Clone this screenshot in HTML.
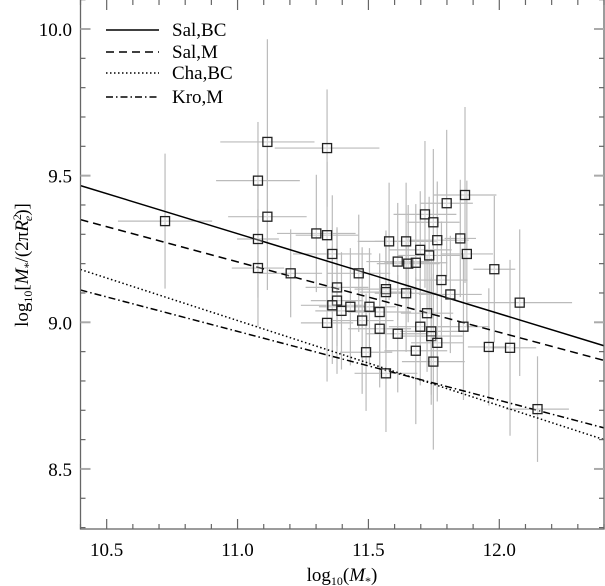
<!DOCTYPE html>
<html><head><meta charset="utf-8"><style>
html,body{margin:0;padding:0;background:#fff;}
svg{display:block;font-family:"Liberation Serif",serif;}
</style></head><body>
<svg id="chart" width="605" height="586" viewBox="0 0 605 586">
<g id="errs"></g>
<g id="lines"></g>
<g id="pts"></g>
<g id="axes"></g>
<g id="legend"></g>
<text x="342" y="581" font-size="19" text-anchor="middle">log<tspan font-size="12" dy="4">10</tspan><tspan dy="-4">(</tspan><tspan font-style="italic">M</tspan><tspan font-size="12" dy="4">*</tspan><tspan dy="-4">)</tspan></text>
<text transform="translate(28,265) rotate(-90)" font-size="19" text-anchor="middle">log<tspan font-size="12" dy="4">10</tspan><tspan dy="-4">[</tspan><tspan font-style="italic">M</tspan><tspan font-size="12" dy="4">*</tspan><tspan dy="-4">/(2π</tspan><tspan font-style="italic">R</tspan><tspan font-size="12" dy="-7">2</tspan><tspan font-size="12" dx="-7" dy="11" font-style="italic">e</tspan><tspan dy="-4">)]</tspan></text>
</svg>
<script>
const xs=[10.723,11.114,11.078,11.114,11.078,11.078,11.203,11.342,11.301,11.342,11.362,11.463,11.38,11.38,11.362,11.397,11.431,11.342,11.504,11.543,11.476,11.543,11.612,11.491,11.567,11.567,11.567,11.644,11.579,11.644,11.612,11.652,11.681,11.698,11.698,11.681,11.869,11.799,11.716,11.748,11.763,11.851,11.732,11.876,11.981,11.779,11.813,12.078,11.724,11.863,11.74,11.74,11.763,11.96,12.041,11.748,12.146];
const ys=[9.345,9.615,9.483,9.36,9.284,9.185,9.167,9.594,9.303,9.297,9.233,9.167,9.119,9.074,9.058,9.039,9.053,8.998,9.053,9.035,9.006,8.978,8.961,8.898,8.826,9.113,9.103,9.099,9.276,9.276,9.207,9.2,9.203,9.247,8.985,8.903,9.434,9.406,9.368,9.341,9.28,9.286,9.228,9.233,9.181,9.144,9.095,9.067,9.031,8.985,8.969,8.953,8.93,8.916,8.913,8.866,8.704];
const xErr=[0.18,0.18,0.16,0.15,0.08,0.1,0.12,0.2,0.15,0.12,0.15,0.12,0.12,0.1,0.12,0.1,0.12,0.1,0.1,0.12,0.12,0.12,0.12,0.1,0.12,0.12,0.1,0.12,0.12,0.12,0.12,0.12,0.12,0.12,0.12,0.12,0.12,0.1,0.12,0.1,0.12,0.06,0.12,0.1,0.08,0.1,0.12,0.2,0.1,0.1,0.12,0.12,0.1,0.08,0.1,0.12,0.12];
const yErr=[0.23,0.35,0.2,0.25,0.2,0.2,0.15,0.2,0.2,0.25,0.2,0.2,0.2,0.25,0.2,0.2,0.2,0.2,0.2,0.2,0.25,0.2,0.2,0.2,0.2,0.2,0.2,0.2,0.2,0.2,0.2,0.2,0.2,0.2,0.2,0.25,0.3,0.25,0.25,0.25,0.2,0.2,0.2,0.25,0.25,0.2,0.2,0.25,0.2,0.25,0.25,0.2,0.2,0.2,0.3,0.3,0.18];
const lineNames=["Sal,BC","Sal,M","Cha,BC","Kro,M"];
const lineStart=[9.466,9.35,9.18,9.11];
const lineEnd=[8.92,8.87,8.60,8.64];
const lineDash=["","8,5","1.5,2.5","7,3,1.5,3"];
const xTicks=[10.5,11.0,11.5,12.0];
const yTicks=[8.5,9.0,9.5,10.0];
const X0=10.4,X1=12.4,Y0=8.3,Y1=10.1;
const L=80.5,R=604,T=0,B=529;
const sx=v=>L+(v-X0)/(X1-X0)*(R-L);
const sy=v=>29+(10.0-v)*293.3;
const NS="http://www.w3.org/2000/svg";
function mk(tag,attrs,parent){const e=document.createElementNS(NS,tag);for(const k in attrs)e.setAttribute(k,attrs[k]);parent.appendChild(e);return e;}
const errs=document.getElementById('errs'),pts=document.getElementById('pts'),lines=document.getElementById('lines'),axes=document.getElementById('axes'),leg=document.getElementById('legend');
for(let i=0;i<xs.length;i++){
  const cx=sx(xs[i]),cy=sy(ys[i]);
  const h=mk('line',{x1:sx(xs[i]-xErr[i]),x2:sx(xs[i]+xErr[i]),y1:cy,y2:cy,stroke:'#bbb','stroke-width':1.2},errs);
  
  
  const v=mk('line',{x1:cx,x2:cx,y1:sy(ys[i]-yErr[i]),y2:sy(ys[i]+yErr[i]),stroke:'#bbb','stroke-width':1.2},errs);
  
  
  const r=mk('rect',{x:cx-4.5,y:cy-4.5,width:9,height:9,fill:'rgba(255,255,255,0.3)',stroke:'#222','stroke-width':1.3},pts);
  
  
}
for(let i=0;i<lineNames.length;i++){
  const l=mk('line',{x1:sx(X0),y1:sy(lineStart[i]),x2:sx(X1),y2:sy(lineEnd[i]),stroke:'#000','stroke-width':1.5,'stroke-dasharray':lineDash[i]},lines);
  
  
  const ly=[30,52,73,97][i];
  const ll=mk('line',{x1:106,x2:159,y1:ly,y2:ly,stroke:'#000','stroke-width':1.5,'stroke-dasharray':lineDash[i]},leg);
  
  
  const t=mk('text',{x:172,y:ly+6,'font-size':19},leg);
  t.textContent=lineNames[i];
  
  
}
const frame=mk('rect',{x:L,y:T-1,width:R-L,height:B-T+1,fill:'none',stroke:'#666','stroke-width':1.3},axes);


for(let k=0;k<=20;k++){
  const v=X0+k*0.1,x=sx(v),maj=Math.abs((v*2)-Math.round(v*2))<1e-6;const len=maj?10:5;
  mk('line',{x1:x,x2:x,y1:B,y2:B-len,stroke:'#666','stroke-width':1.2},axes);
  mk('line',{x1:x,x2:x,y1:T,y2:T+len,stroke:'#666','stroke-width':1.2},axes);
}
for(let k=0;k<=18;k++){
  const v=Y0+k*0.1,y=sy(v),maj=Math.abs((v*2)-Math.round(v*2))<1e-6;const len=maj?10:5;
  mk('line',{x1:L,x2:L+len,y1:y,y2:y,stroke:maj?'#aaa':'#666','stroke-width':maj?2:1.2},axes);
  mk('line',{x1:R,x2:R-len,y1:y,y2:y,stroke:maj?'#aaa':'#666','stroke-width':maj?2:1.2},axes);
}
xTicks.forEach(v=>{const t=mk('text',{x:sx(v),y:556,'font-size':19,'text-anchor':'middle'},axes);t.textContent=v.toFixed(1);

});
yTicks.forEach(v=>{const t=mk('text',{x:72,y:sy(v)+7,'font-size':19,'text-anchor':'end'},axes);t.textContent=v.toFixed(1);

});
</script>
</body></html>
